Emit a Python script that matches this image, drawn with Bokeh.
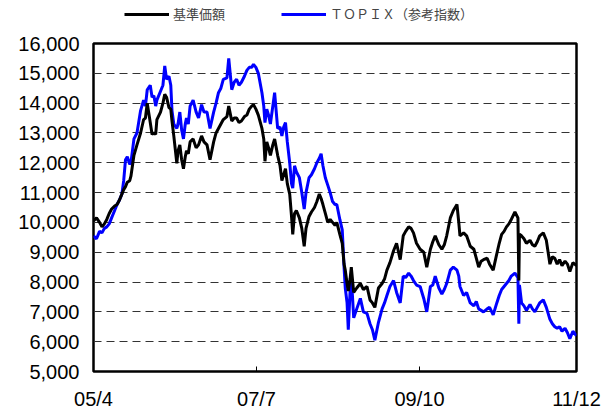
from bokeh.plotting import figure
from bokeh.layouts import column
from bokeh.models import Legend, LegendItem, FixedTicker, Range1d, NumeralTickFormatter
from bokeh.embed import file_html
from bokeh.resources import INLINE

# months elapsed since 2005/04
t = [0, 0.5, 1.0, 1.4, 1.8, 2.2, 2.6, 3.0, 3.5, 3.9, 4.3, 4.7, 5.0, 5.3, 5.6, 6.0, 6.2, 6.7, 7.2, 7.8,
     8.3, 8.6, 8.9, 9.4, 9.7, 10.0, 10.3, 10.5, 11.1, 11.5, 11.8, 12.1, 12.5, 12.8, 13.0, 13.3, 13.8, 14.0, 14.3, 14.6,
     14.9, 15.2, 15.4, 15.7, 16.0, 16.5, 17.0, 17.4, 17.9, 18.3, 18.8, 19.3, 19.9, 20.3, 20.7, 21.1, 21.5, 22.1, 22.4, 22.9,
     23.3, 23.7, 24.1, 24.5, 25.0, 25.4, 25.8, 26.2, 26.5, 26.9, 27.3, 27.9, 28.2, 28.4, 28.7, 29.0, 29.3, 29.7, 30.0, 30.5,
     30.9, 31.2, 31.5, 31.8, 32.1, 32.5, 32.8, 33.0, 33.3, 33.6, 34.1, 34.5, 34.9, 35.2, 35.7, 36.1, 36.6, 37.0, 37.4, 37.7,
     38.0, 38.4, 38.8, 39.2, 39.6, 40.0, 40.3, 40.8, 41.2, 41.5, 41.7, 42.0, 42.2, 42.5, 42.7, 43.1, 43.6, 44.2, 44.7, 45.3,
     45.8, 46.2, 46.6, 47.2, 47.8, 48.2, 48.6, 49.1, 49.7, 50.2, 50.8, 51.3, 51.7, 52.2, 52.6, 53.0, 53.5, 54.1, 54.7, 55.2,
     55.8, 56.2, 56.6, 57.2, 57.7, 58.1, 58.5, 59.1, 59.6, 60.2, 60.5, 60.7, 61.3, 61.8, 62.4, 63.0, 63.4, 63.8, 64.2, 64.6,
     65.2, 65.6, 66.2, 66.8, 67.2, 67.6, 68.0, 68.4, 68.8, 69.2, 69.8, 70.3, 70.45, 70.55, 70.9, 71.3, 71.7, 72.3, 72.7, 73.1,
     73.5, 73.9, 74.5, 75.0, 75.6, 76.0, 76.4, 76.8, 77.2, 77.6, 78.1, 78.5, 78.9, 79.4, 80.0]

nav = [10050, 10150, 10000, 9850, 9950, 10100, 10300, 10450, 10550, 10600, 10750, 10950, 11100, 11200, 11350, 11400, 11550, 12250, 12600, 13000,
       13450, 13500, 14000, 13350, 12950, 13000, 12950, 13450, 13700, 14000, 14300, 14200, 13850, 13800, 13400, 12900, 11980, 12400, 12600, 12100,
       11800, 12200, 12400, 12300, 12700, 12800, 12500, 12600, 12900, 12700, 12600, 12100, 12700, 13000, 13150, 13300, 13450, 13550, 13900, 13400,
       13500, 13500, 13350, 13400, 13550, 13600, 13800, 13900, 13950, 13800, 13600, 13150, 12800, 12050, 12700, 12500, 12250, 12600, 12800, 12250,
       11900, 11400, 11600, 11800, 11300, 10950, 10200, 9600, 10300, 10400, 10150, 9800, 9200, 9800, 10200, 10350, 10500, 10700, 10950, 10800,
       10600, 10300, 10000, 10100, 10000, 9900, 10000, 9600, 9300, 8600, 8400, 7950, 7700, 8100, 8500, 7650, 7800, 7950, 7750, 7850,
       7400, 7300, 7150, 7800, 7950, 8100, 8400, 8650, 9050, 9300, 8750, 9550, 9700, 9850, 9800, 9650, 9300, 9100, 9000, 8500,
       9100, 9350, 9550, 9250, 9100, 9250, 9550, 10150, 10400, 10600, 10000, 9550, 9650, 9550, 9200, 9100, 8800, 8500, 8700, 8750,
       8800, 8600, 8400, 8950, 9300, 9600, 9700, 9850, 9950, 10100, 10350, 10150, 8050, 9600, 9550, 9450, 9300, 9400, 9250, 9200,
       9350, 9550, 9650, 9400, 8600, 8850, 8800, 8600, 8750, 8550, 8700, 8600, 8350, 8650, 8550]

topix = [9550, 9450, 9700, 9650, 9800, 9850, 9950, 10150, 10400, 10600, 10750, 10950, 11400, 12100, 12200, 11950, 12000, 12800, 13000, 13750,
         14100, 13900, 14450, 14600, 14200, 14250, 13900, 14100, 14400, 14600, 15250, 14800, 14900, 14600, 13750, 13300, 13150, 13300, 13700, 13100,
         12800, 13300, 13500, 13300, 13900, 14100, 13700, 13500, 13950, 13700, 13700, 13150, 13700, 14000, 14350, 14500, 14800, 14850, 15500, 14450,
         14700, 14800, 14600, 14700, 14900, 15100, 15200, 15200, 15300, 15200, 15000, 14350, 13900, 13350, 13800, 13600, 13300, 13900, 14350, 13150,
         13200, 12900, 13200, 13350, 12700, 12000, 11300, 11150, 11900, 11700, 11500, 11000, 10450, 11000, 11500, 11600, 11800, 12000, 12150, 12300,
         11900, 11500, 11250, 11000, 10700, 10600, 10600, 10100, 9750, 8500, 7800, 7300, 6400, 7700, 8200, 6800, 7100, 7450, 7000, 6950,
         6600, 6400, 6050, 6650, 7100, 7300, 7550, 7850, 8050, 7650, 7300, 8200, 8150, 8300, 8200, 8050, 7900, 7850, 7450, 7000,
         7850, 7900, 8200, 7800, 7600, 7750, 7950, 8400, 8500, 8400, 8200, 7850, 7550, 7650, 7300, 7200, 7350, 7100, 7050, 7000,
         7100, 7150, 6900, 7300, 7550, 7750, 7850, 7950, 8050, 8200, 8300, 8150, 6600, 7900, 7300, 7200, 7050, 7250, 7100, 7000,
         7150, 7300, 7400, 7150, 6750, 6600, 6500, 6450, 6500, 6350, 6450, 6300, 6100, 6350, 6200]

tick_months = [0, 27, 54, 80]
tick_labels = ["05/4", "07/7", "09/10", "11/12"]
y_ticks = list(range(5000, 16001, 1000))
series_names = ["基準価額", "ＴＯＰＩＸ（参考指数）"]
series_colors = ["#000000", "#0000FF"]

# ---- legend strip (series drawn out of view, only their legend entries show) ----
leg = figure(width=612, height=31, output_backend="svg", toolbar_location=None,
             x_axis_type=None, y_axis_type=None,
             x_range=Range1d(0, 80), y_range=Range1d(30000, 31000),
             min_border=0, outline_line_color=None)
leg.grid.visible = False
leg_renderers = [leg.line(t, s, line_color=c, line_width=3) for s, c in zip([nav, topix], series_colors)]
legend = Legend(items=[LegendItem(label=n, renderers=[r]) for n, r in zip(series_names, leg_renderers)],
                location=(31, 8), orientation="horizontal",
                glyph_width=45, glyph_height=16, label_standoff=4, spacing=56,
                padding=0, margin=0, border_line_alpha=0, background_fill_alpha=0,
                label_text_font="Noto Sans CJK JP", label_text_font_size="13px",
                label_height=16)
leg.add_layout(legend, "center")

# ---- main chart ----
p = figure(width=612, height=381, output_backend="svg", toolbar_location=None,
           x_range=Range1d(0, 80), y_range=Range1d(5000, 16000),
           min_border_left=93, min_border_right=36, min_border_top=12, min_border_bottom=35)

p.line(t, topix, line_color=series_colors[1], line_width=3)
p.line(t, nav, line_color=series_colors[0], line_width=3)

p.outline_line_color = "black"
p.outline_line_width = 2.5
p.outline_line_alpha = 1

p.xgrid.visible = False
p.ygrid.grid_line_color = "#333333"
p.ygrid.grid_line_dash = "8 5"
p.ygrid.grid_line_width = 1
p.ygrid.ticker = FixedTicker(ticks=y_ticks[1:-1])

p.xaxis.ticker = FixedTicker(ticks=tick_months)
p.xaxis.major_label_overrides = {m: s for m, s in zip(tick_months, tick_labels)}
p.xaxis.major_tick_in = 5
p.xaxis.major_tick_out = 0
p.xaxis.minor_tick_line_color = None
p.xaxis.axis_line_color = None
p.xaxis.major_tick_line_color = "black"
p.xaxis.major_label_standoff = 16

p.yaxis.ticker = FixedTicker(ticks=y_ticks)
p.yaxis.formatter = NumeralTickFormatter(format="0,0")
p.yaxis.major_tick_in = 0
p.yaxis.major_tick_out = 0
p.yaxis.minor_tick_line_color = None
p.yaxis.axis_line_color = None
p.yaxis.major_label_standoff = 14

for ax in (p.xaxis, p.yaxis):
    ax.major_label_text_font = "Liberation Sans"
    ax.major_label_text_font_size = "20px"
    ax.major_label_text_color = "black"

layout = column(leg, p, spacing=0)
open("out.html", "w").write(file_html(layout, INLINE))
